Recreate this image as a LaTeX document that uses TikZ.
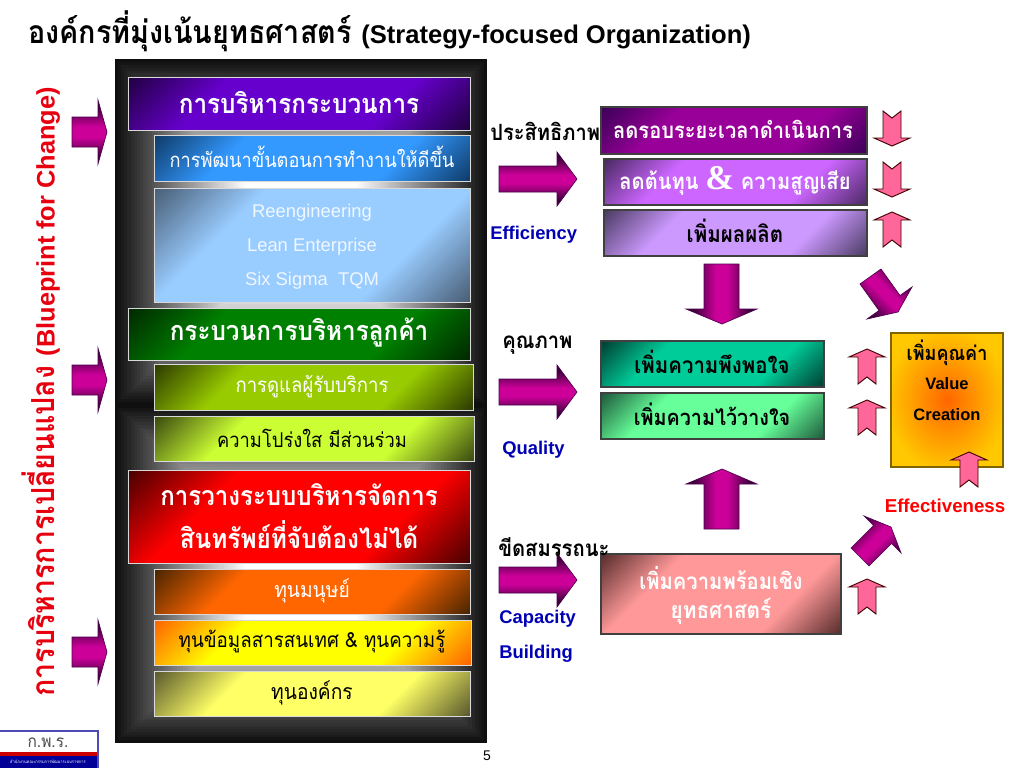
\documentclass[tikz,border=0pt]{standalone}
\usepackage{fontspec}
\setmainfont{Liberation Sans}
\newfontfamily\thaifont[Script=Thai,FakeStretch=0.9,Scale=0.92]{Loma}
\newcommand{\fs}[1]{\fontsize{#1}{#1}\selectfont}
\newcommand{\mkshade}[3]{\pgfdeclareverticalshading{#1}{100bp}{color(0bp)=(#2); color(15bp)=(#2); color(33bp)=(#3); color(67bp)=(#3); color(85bp)=(#2); color(100bp)=(#2)}}
\definecolor{pdark}{HTML}{220044}\definecolor{pbright}{HTML}{6600CC}
\definecolor{bdark}{HTML}{0F3D6B}\definecolor{bbright}{HTML}{3399FF}
\definecolor{ldark}{HTML}{4A6078}\definecolor{lbright}{HTML}{99CCFF}
\definecolor{gdark}{HTML}{002A00}\definecolor{gbright}{HTML}{008000}
\definecolor{odark}{HTML}{2E3D00}\definecolor{obright}{HTML}{99CC00}
\definecolor{ydark}{HTML}{3D4D10}\definecolor{ybright}{HTML}{CCFF33}
\definecolor{rdark}{HTML}{4D0000}\definecolor{rbright}{HTML}{FF0000}
\definecolor{ndark}{HTML}{4D2600}\definecolor{nbright}{HTML}{FF6600}
\definecolor{fdark}{HTML}{FF6600}\definecolor{fbright}{HTML}{FFFF00}
\definecolor{kdark}{HTML}{5C5C2E}\definecolor{kbright}{HTML}{FFFF66}
\definecolor{vdark}{HTML}{3D0059}\definecolor{vbright}{HTML}{990099}
\definecolor{wdark}{HTML}{4D2A66}\definecolor{wbright}{HTML}{CC66FF}
\definecolor{xdark}{HTML}{4D3D66}\definecolor{xbright}{HTML}{CC99FF}
\definecolor{tdark}{HTML}{004033}\definecolor{tbright}{HTML}{00CC99}
\definecolor{mdark}{HTML}{1F5C3D}\definecolor{mbright}{HTML}{66FF99}
\definecolor{sdark}{HTML}{5C2E2E}\definecolor{sbright}{HTML}{FF9999}
\definecolor{adark}{HTML}{3A003A}\definecolor{abright}{HTML}{CC0099}\definecolor{aline}{HTML}{4D004D}
\definecolor{pinkfill}{HTML}{FF6699}\definecolor{navy}{HTML}{0000B4}
\definecolor{ored}{HTML}{E8000F}
\definecolor{ambergold}{HTML}{FFC800}
\definecolor{ambermid}{HTML}{FF9900}
\mkshade{shpur}{pdark}{pbright}
\mkshade{shblu}{bdark}{bbright}
\mkshade{shlig}{ldark}{lbright}
\mkshade{shgrn}{gdark}{gbright}
\mkshade{sholi}{odark}{obright}
\mkshade{shyel}{ydark}{ybright}
\mkshade{shred}{rdark}{rbright}
\mkshade{shora}{ndark}{nbright}
\mkshade{shfir}{fdark}{fbright}
\mkshade{shkha}{kdark}{kbright}
\mkshade{shvio}{vdark}{vbright}
\mkshade{shwis}{wdark}{wbright}
\mkshade{shxis}{xdark}{xbright}
\mkshade{shtea}{tdark}{tbright}
\mkshade{shmin}{mdark}{mbright}
\mkshade{shsal}{sdark}{sbright}
\pgfdeclareverticalshading{sharv}{100bp}{color(0bp)=(adark); color(30bp)=(adark); color(46bp)=(abright); color(54bp)=(abright); color(70bp)=(adark); color(100bp)=(adark)}
\pgfdeclareverticalshading{shard}{100bp}{color(0bp)=(adark); color(26bp)=(adark); color(46bp)=(abright); color(54bp)=(abright); color(74bp)=(adark); color(100bp)=(adark)}
\pgfdeclareradialshading{shval}{\pgfpoint{0bp}{0bp}}{color(0bp)=(nbright); color(14bp)=(ambermid); color(27bp)=(ambergold); color(50bp)=(ambergold)}
\tikzset{
  panelbox/.style={shade,shading angle=45,draw=white!70!gray,line width=.7pt},
  rightbox/.style={shade,shading angle=45,draw=black!75,line width=.8pt},
  bigarrow/.style={shade,shading=sharv,draw=aline,line width=.5pt},
  diagarrow/.style={shade,shading=shard,draw=aline,line width=.5pt},
  smallarrow/.style={fill=pinkfill,draw=black!75!red,line width=.7pt},
  th/.style={font=\thaifont\bfseries\fs{#1},inner sep=0pt},
  tn/.style={font=\thaifont\fs{#1},inner sep=0pt},
  en/.style={font=\bfseries\fs{#1},inner sep=0pt},
  pic/.style={x=.75pt,y=-.75pt}
}
\newcommand{\rarrow}[6]{\path[bigarrow] (#1,#2-#5) -- (#4,#2-#5) -- (#4,#2-#6) -- (#3,#2) -- (#4,#2+#6) -- (#4,#2+#5) -- (#1,#2+#5) -- cycle;}
\begin{document}
\begin{tikzpicture}[pic]
\useasboundingbox (0,0) rectangle (1024,768);
\fill[white] (0,0) rectangle (1024,768);
% panel
\foreach \i in {0,...,60}{
  \pgfmathsetmacro{\f}{\i/60}
  \pgfmathsetmacro{\g}{min(100,100*(.06+1.35*\f))}
  \fill[white!\g!black] (115+186*\f,59+173*\f) rectangle (487-186*\f,405-173*\f);
  \fill[white!\g!black] (115+186*\f,405+169*\f) rectangle (487-186*\f,743-169*\f);
}
% boxes
\path[panelbox,shading=shpur] (128,77) rectangle (470,130);
\path[panelbox,shading=shblu] (154,135) rectangle (470,181);
\path[panelbox,shading=shlig] (154,188) rectangle (470,302);
\path[panelbox,shading=shgrn] (128,308) rectangle (470,360);
\path[panelbox,shading=sholi] (154,364) rectangle (473,410);
\path[panelbox,shading=shyel] (154,416) rectangle (474,461);
\path[panelbox,shading=shred] (128,470) rectangle (470,563);
\path[panelbox,shading=shora] (154,569) rectangle (470,614);
\path[panelbox,shading=shfir] (154,620) rectangle (471,665);
\path[panelbox,shading=shkha] (154,671) rectangle (470,716);
\node[th=22,white] (t1) at (299,103) {การบริหารกระบวนการ};
\node[tn=16.5,white] (t2) at (312,157) {การพัฒนาขั้นตอนการทำงานให้ดีขึ้น};
\node[font=\fs{13.8},text=white!85!lbright] (t3a) at (312,213) {Reengineering};
\node[font=\fs{13.8},text=white!85!lbright] (t3b) at (312,247) {Lean Enterprise};
\node[font=\fs{13.8},text=white!85!lbright] (t3c) at (312,281) {Six Sigma\ \ TQM};
\node[th=22,white] (t4) at (299,333) {กระบวนการบริหารลูกค้า};
\node[tn=16.8,white] (t5) at (312,387) {การดูแลผู้รับบริการ};
\node[tn=16.6,black] (t6) at (312,438) {ความโปร่งใส มีส่วนร่วม};
\node[th=21.8,white] (t7a) at (299,495) {การวางระบบบริหารจัดการ};
\node[th=22.1,white] (t7b) at (299,535) {สินทรัพย์ที่จับต้องไม่ได้};
\node[tn=17.4,white] (t8) at (312,591) {ทุนมนุษย์};
\node[tn=17,black] (t9) at (312,642) {ทุนข้อมูลสารสนเทศ \& ทุนความรู้};
\node[tn=17.4,black] (t10) at (312,693) {ทุนองค์กร};
% title
\node[th=26,anchor=west,black] (title) at (28,31) {องค์กรที่มุ่งเน้นยุทธศาสตร์ {\normalfont\bfseries\fs{19.2}(Strategy-focused Organization)}};
% left vertical
\node[th=25.9,ored,rotate=90] (side) at (41,392) {การบริหารการเปลี่ยนแปลง {\normalfont\bfseries\fs{19}(Blueprint for Change)}};
% left arrows
\rarrow{72}{132}{107}{98}{15}{32}
\rarrow{72}{380}{107}{98}{15}{32}
\rarrow{72}{652}{107}{98}{15}{32}
% right arrows
\rarrow{499}{179}{577}{557}{13}{27}
\rarrow{499}{392}{577}{557}{13}{27}
\rarrow{499}{580}{577}{557}{13}{27}
% right boxes
\path[rightbox,shading=shvio] (601,107) rectangle (867,154);
\path[rightbox,shading=shwis] (604,159) rectangle (867,205);
\path[rightbox,shading=shxis] (604,210) rectangle (867,256);
\path[rightbox,shading=shtea] (601,341) rectangle (824,387);
\path[rightbox,shading=shmin] (601,393) rectangle (824,439);
\path[rightbox,shading=shsal] (601,554) rectangle (841,634);
\path[draw=black!50!ambergold,line width=1pt,shade,shading=shval] (891,333) rectangle (1003,467);
\node[th=18.2,white] (r1) at (733,129) {ลดรอบระยะเวลาดำเนินการ};
\node[th=18.2,white] (r2) at (735,181) {ลดต้นทุน {\fontspec{Liberation Serif}\bfseries\fs{26}\&} ความสูญเสีย};
\node[th=18.6,black] (r3) at (735,231) {เพิ่มผลผลิต};
\node[th=18.5,black] (r4) at (712,362) {เพิ่มความพึงพอใจ};
\node[th=17.9,black] (r5) at (712,414) {เพิ่มความไว้วางใจ};
\node[th=18.3,white] (r6a) at (721,578) {เพิ่มความพร้อมเชิง};
\node[th=18.8,white] (r6b) at (721,611) {ยุทธศาสตร์};
\node[th=16.3,black] (v1) at (947,353) {เพิ่มคุณค่า};
\node[en=12.4,black] (v2) at (947,384) {Value};
\node[en=12.4,black] (v3) at (947,415) {Creation};
\node[en=14,red] (eff) at (945,506) {Effectiveness};
% labels
\node[th=18.2,anchor=west,black] (l1) at (490,131) {ประสิทธิภาพ};
\node[en=13.8,anchor=west,navy] (l2) at (490,235) {Efficiency};
\node[th=18.3,anchor=west,black] (l3) at (502,345) {คุณภาพ};
\node[en=13.8,anchor=west,navy] (l4) at (502,450) {Quality};
\node[th=18.3,anchor=west,black] (l5) at (498,547) {ขีดสมรรถนะ};
\node[en=13.8,anchor=west,navy] (l6) at (499,619) {Capacity};
\node[en=13.8,anchor=west,navy] (l7) at (499,654) {Building};
% big vertical arrows
\path[bigarrow,shading angle=90] (704,264) -- (739,264) -- (739,309) -- (757,309) -- (722,324) -- (686,309) -- (704,309) -- cycle;
\path[bigarrow,shading angle=90] (704,529) -- (739,529) -- (739,484) -- (757,484) -- (722,469) -- (686,484) -- (704,484) -- cycle;
% diagonals
\path[diagarrow,shading angle=-45] (881,269) -- (900,295.5) -- (912,287) -- (898,312) -- (867,319) -- (879,310.5) -- (860,284) -- cycle;
\path[diagarrow,shading angle=45] (851,548) -- (873.5,525.5) -- (864,516) -- (891,527) -- (901,553) -- (891.5,543.5) -- (869,566) -- cycle;
% small arrows
\foreach \cx/\ty in {892/111,892/162}{
 \path[smallarrow] (\cx-9,\ty) -- (\cx,\ty+7) -- (\cx+9,\ty) -- (\cx+9,\ty+27) -- (\cx+18,\ty+27) -- (\cx,\ty+35) -- (\cx-18,\ty+27) -- (\cx-9,\ty+27) -- cycle;
}
\foreach \cx/\by in {892/247,867/384,867/435,867/614,969/487}{
 \path[smallarrow] (\cx-9,\by) -- (\cx,\by-7) -- (\cx+9,\by) -- (\cx+9,\by-27) -- (\cx+18,\by-27) -- (\cx,\by-35) -- (\cx-18,\by-27) -- (\cx-9,\by-27) -- cycle;
}
% logo
\fill[white] (0,731) rectangle (98,768);
\fill[red!80!black] (0,752) rectangle (98,756);
\fill[blue!60!black] (0,756) rectangle (98,768);
\draw[blue!40!gray,line width=.8pt] (0,731) -- (98,731) -- (98,768);
\node[tn=14,black!70] (lg) at (48,743) {ก.พ.ร.};
\node[tn=3.6,white] (lg2) at (48,762) {สำนักงานคณะกรรมการพัฒนาระบบราชการ};
\node[font=\fs{10.5},black,inner sep=0pt] (pg) at (487,756) {5};
\end{tikzpicture}
\end{document}
